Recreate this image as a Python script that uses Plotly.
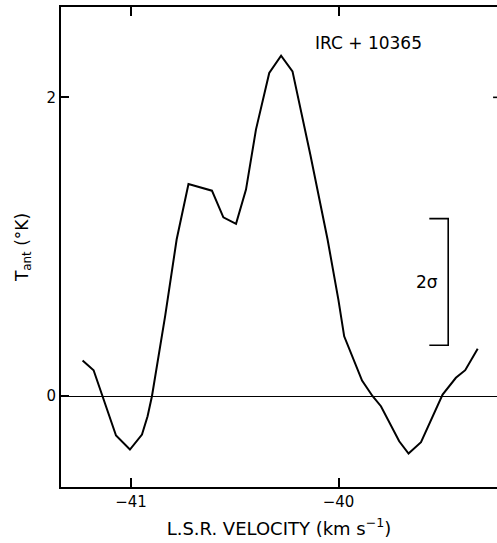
import plotly.graph_objects as go

# Antenna temperature spectrum of IRC +10365
velocity = [-41.233, -41.180, -41.072, -41.005, -40.947, -40.920, -40.899, -40.835,
            -40.780, -40.723, -40.610, -40.555, -40.494, -40.446, -40.398, -40.334,
            -40.277, -40.222, -40.136, -40.053, -40.001, -39.973, -39.887, -39.836,
            -39.796, -39.708, -39.663, -39.603, -39.499, -39.435, -39.390, -39.330]
t_ant = [0.238, 0.173, -0.264, -0.358, -0.258, -0.135, -0.001, 0.539,
         1.048, 1.420, 1.375, 1.197, 1.153, 1.382, 1.784, 2.163,
         2.279, 2.174, 1.616, 1.048, 0.646, 0.400, 0.104, -0.001,
         -0.068, -0.303, -0.385, -0.309, 0.010, 0.122, 0.173, 0.316]

# 2-sigma noise bar
sigma = 0.424
sigma_bar_x = -39.472
sigma_cap_x = -39.563
sigma_bar_base = 0.340

x_ticks = [-41, -40]
x_tick_text = ["\u221241", "\u221240"]
y_ticks = [0, 2]
y_tick_text = ["0", "2"]

x_range = [-41.337, -39.237]
y_range = [-0.609, 2.605]

FONT = "DejaVu Sans"

fig = go.Figure()

fig.add_trace(go.Scatter(
    x=velocity, y=t_ant, mode="lines",
    line=dict(color="black", width=2), hoverinfo="skip", showlegend=False,
))

top = sigma_bar_base + 2 * sigma
fig.add_trace(go.Scatter(
    x=[sigma_cap_x, sigma_bar_x, sigma_bar_x, sigma_cap_x],
    y=[top, top, sigma_bar_base, sigma_bar_base],
    mode="lines", line=dict(color="black", width=1.6),
    hoverinfo="skip", showlegend=False,
))

fig.add_annotation(x=-39.576, y=sigma_bar_base + sigma, text="2\u03c3",
                   showarrow=False, font=dict(family=FONT, size=17, color="black"))
fig.add_annotation(x=-39.855, y=2.364, text="IRC + 10365",
                   showarrow=False, font=dict(family=FONT, size=17, color="black"))

# frame: left, bottom and top lines, plus the right-hand tick at T = 2
fig.add_shape(type="line", xref="paper", yref="y", x0=0.991, x1=1.0, y0=2, y1=2,
              line=dict(color="black", width=1.6))

fig.update_xaxes(
    range=x_range, tickvals=x_ticks, ticktext=x_tick_text,
    ticks="inside", ticklen=9, tickwidth=1.6, tickcolor="black",
    showline=True, linecolor="black", linewidth=2, mirror="ticks",
    showgrid=False, zeroline=False,
    tickfont=dict(family=FONT, size=15, color="black"),
    title=dict(text="L.S.R. VELOCITY (km s<sup>\u22121</sup>)",
               font=dict(family=FONT, size=18, color="black"), standoff=12),
)
fig.update_yaxes(
    range=y_range, tickvals=y_ticks, ticktext=y_tick_text,
    ticks="inside", ticklen=8, tickwidth=1.6, tickcolor="black",
    showline=True, linecolor="black", linewidth=2, mirror=False,
    showgrid=False, zeroline=True, zerolinecolor="black", zerolinewidth=1.4,
    tickfont=dict(family=FONT, size=15, color="black"),
    title=dict(text="T<sub>ant</sub> (\u00b0K)",
               font=dict(family=FONT, size=17, color="black"), standoff=14),
)

fig.update_layout(
    width=497, height=543,
    margin=dict(l=61, r=0, t=7, b=56),
    paper_bgcolor="white", plot_bgcolor="white",
)

fig.write_html("out.html")
